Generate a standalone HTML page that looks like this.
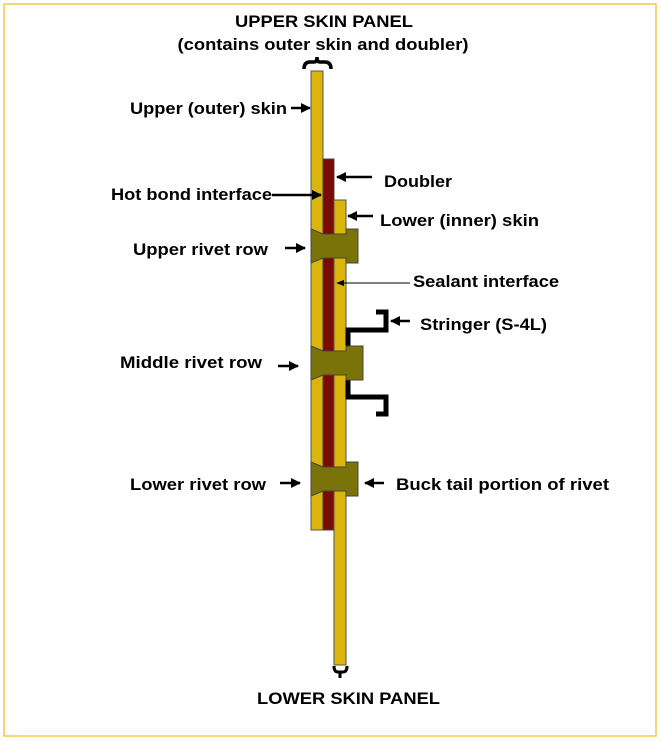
<!DOCTYPE html>
<html><head><meta charset="utf-8"><style>
html,body{margin:0;padding:0;background:#fff}
svg{display:block}
text{font-family:"Liberation Sans",Arial,sans-serif;font-weight:bold;font-size:17px;fill:#000}
</style></head><body>
<svg width="661" height="741" viewBox="0 0 661 741" xmlns="http://www.w3.org/2000/svg">
<defs><marker id="ah" viewBox="0 0 10 10" refX="9" refY="5" markerWidth="4" markerHeight="4" orient="auto"><path d="M0,0L10,5L0,10z" fill="#000"/></marker>
<marker id="ah2" viewBox="0 0 10 10" refX="9" refY="5" markerWidth="8" markerHeight="8" orient="auto"><path d="M0,1L10,5L0,9z" fill="#000"/></marker></defs>
<rect x="4" y="4" width="652" height="732" fill="none" stroke="#f7c64a" stroke-width="1.5"/>
<text x="324" y="27" text-anchor="middle" textLength="178" lengthAdjust="spacingAndGlyphs">UPPER SKIN PANEL</text>
<text x="323" y="50" text-anchor="middle" textLength="291" lengthAdjust="spacingAndGlyphs">(contains outer skin and doubler)</text>
<path d="M304,69 Q304,62 310,62 L314,62 Q317,62 317,57 Q317,62 320,62 L325,62 Q331,62 331,69" fill="none" stroke="#000" stroke-width="3.5"/>
<path d="M334,666 Q334,672 338,672 L340,672 L340,678 L340,672 L343,672 Q347,672 347,666" fill="none" stroke="#000" stroke-width="3"/>
<rect x="311" y="71" width="12" height="459" fill="#dbb40c" stroke="#555" stroke-width="1"/>
<rect x="323" y="159" width="11" height="371" fill="#7a0a04" stroke="#444" stroke-width="1"/>
<rect x="334" y="200" width="12" height="465" fill="#dbb40c" stroke="#555" stroke-width="1"/>
<path d="M348,352 L348,330 L386,330 L386,312 L376,312" fill="none" stroke="#000" stroke-width="5"/>
<path d="M348,375 L348,397 L386,397 L386,414 L376,414" fill="none" stroke="#000" stroke-width="5"/>
<path d="M311,229 L323,234 L346,234 L346,229 L358,229 L358,263 L346,263 L346,258 L323,258 L311,263Z" fill="#7a7308" stroke="#444" stroke-width="1"/>
<path d="M311,346 L323,351 L346,351 L346,346 L363,346 L363,380 L346,380 L346,375 L323,375 L311,380Z" fill="#7a7308" stroke="#444" stroke-width="1"/>
<path d="M311,462 L323,467 L346,467 L346,462 L358,462 L358,496 L346,496 L346,491 L323,491 L311,496Z" fill="#7a7308" stroke="#444" stroke-width="1"/>
<g stroke="#000" stroke-width="2.5" marker-end="url(#ah)">
<line x1="291" y1="108" x2="310" y2="108"/>
<line x1="372" y1="177" x2="337" y2="177"/>
<line x1="272" y1="195" x2="321" y2="195"/>
<line x1="373" y1="216" x2="348" y2="216"/>
<line x1="285" y1="248" x2="305" y2="248"/>
<line x1="410" y1="321" x2="391" y2="321"/>
<line x1="278" y1="366" x2="298" y2="366"/>
<line x1="280" y1="483" x2="300" y2="483"/>
<line x1="384" y1="483" x2="365" y2="483"/>
</g>
<line x1="410" y1="283" x2="337" y2="283" stroke="#000" stroke-width="1" marker-end="url(#ah2)"/>
<text x="130" y="114" textLength="157" lengthAdjust="spacingAndGlyphs">Upper (outer) skin</text>
<text x="384" y="187" textLength="68" lengthAdjust="spacingAndGlyphs">Doubler</text>
<text x="111" y="200" textLength="161" lengthAdjust="spacingAndGlyphs">Hot bond interface</text>
<text x="380" y="226" textLength="159" lengthAdjust="spacingAndGlyphs">Lower (inner) skin</text>
<text x="133" y="255" textLength="135" lengthAdjust="spacingAndGlyphs">Upper rivet row</text>
<text x="413" y="287" textLength="146" lengthAdjust="spacingAndGlyphs">Sealant interface</text>
<text x="420" y="330" textLength="127" lengthAdjust="spacingAndGlyphs">Stringer (S-4L)</text>
<text x="120" y="368" textLength="142" lengthAdjust="spacingAndGlyphs">Middle rivet row</text>
<text x="130" y="490" textLength="136" lengthAdjust="spacingAndGlyphs">Lower rivet row</text>
<text x="396" y="490" textLength="213" lengthAdjust="spacingAndGlyphs">Buck tail portion of rivet</text>
<text x="257" y="704" textLength="183" lengthAdjust="spacingAndGlyphs">LOWER SKIN PANEL</text>
</svg>
</body></html>
